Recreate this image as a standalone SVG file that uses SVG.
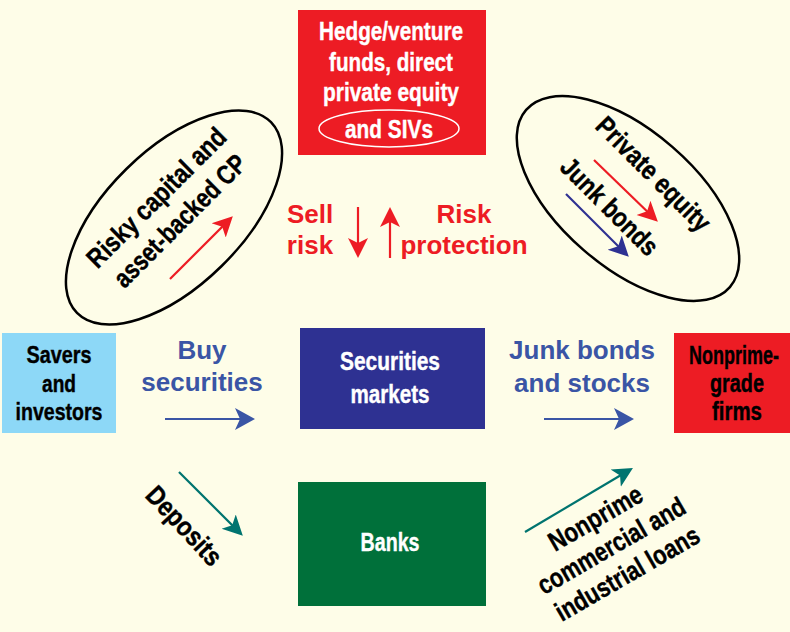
<svg xmlns="http://www.w3.org/2000/svg" width="790" height="632" viewBox="0 0 790 632">
<defs>
<style>
.cond{font-family:"Liberation Sans",Arial,sans-serif;font-weight:bold;text-anchor:middle;stroke-width:0.4}
.reg{font-family:"Liberation Sans",Arial,sans-serif;font-weight:bold;text-anchor:middle;font-size:26px}
.wht{fill:#ffffff}
.cond.wht{stroke:#ffffff}
.blk{fill:#000000}
.cond.blk{stroke:#000000}
.red{fill:#ED1C24}
.blu{fill:#3A55A5}
.ell{fill:none;stroke:#000000;stroke-width:2.5}
.ln{fill:none;stroke-width:2.2}
</style>
<marker id="mRed" markerUnits="userSpaceOnUse" markerWidth="22" markerHeight="22" viewBox="0 -11 22 22" refX="16" refY="0" orient="auto"><path d="M0,-10 L20,0 L0,10 L5,0 z" fill="#ED1C24"/></marker>
<marker id="mBlue" markerUnits="userSpaceOnUse" markerWidth="22" markerHeight="24" viewBox="0 -12 22 24" refX="16" refY="0" orient="auto"><path d="M0,-11 L20,0 L0,11 L5,0 z" fill="#3A55A5"/></marker>
<marker id="mNavy" markerUnits="userSpaceOnUse" markerWidth="22" markerHeight="22" viewBox="0 -11 22 22" refX="16" refY="0" orient="auto"><path d="M0,-10 L20,0 L0,10 L5,0 z" fill="#2E3192"/></marker>
<marker id="mTeal" markerUnits="userSpaceOnUse" markerWidth="22" markerHeight="22" viewBox="0 -11 22 22" refX="16" refY="0" orient="auto"><path d="M0,-10 L20,0 L0,10 L5,0 z" fill="#00746F"/></marker>
</defs>
<rect x="0" y="0" width="790" height="632" fill="#FEFDE8"/>

<g id="hedge">
<rect x="298" y="10" width="188" height="145" fill="#ED1C24"/>
<ellipse cx="389" cy="128.5" rx="70" ry="18.5" fill="none" stroke="#ffffff" stroke-width="1.5"/>
<text class="cond wht" font-size="26" x="391" y="40" textLength="144" lengthAdjust="spacingAndGlyphs">Hedge/venture</text>
<text class="cond wht" font-size="26" x="391" y="71" textLength="124" lengthAdjust="spacingAndGlyphs">funds, direct</text>
<text class="cond wht" font-size="26" x="391" y="101" textLength="136" lengthAdjust="spacingAndGlyphs">private equity</text>
<text class="cond wht" font-size="26" x="389" y="138" textLength="88" lengthAdjust="spacingAndGlyphs">and SIVs</text>
</g>

<g id="risky">
<ellipse cx="174" cy="217.5" rx="136" ry="68" transform="rotate(-44.5 174 217.5)" class="ell"/>
<g transform="translate(163 204) rotate(-45)">
<text class="cond blk" font-size="27" x="0" y="0" textLength="185" lengthAdjust="spacingAndGlyphs">Risky capital and</text>
<text class="cond blk" font-size="27" x="0" y="33" textLength="175" lengthAdjust="spacingAndGlyphs">asset-backed CP</text>
</g>
</g>

<g id="privateeq">
<ellipse cx="628" cy="198.5" rx="135" ry="68" transform="rotate(41 628 198.5)" class="ell"/>
<g transform="translate(647 180.5) rotate(45)">
<text class="cond blk" font-size="27" x="0" y="0" textLength="150" lengthAdjust="spacingAndGlyphs">Private equity</text>
</g>
<g transform="translate(603 213) rotate(45)">
<text class="cond blk" font-size="27" x="0" y="0" textLength="126" lengthAdjust="spacingAndGlyphs">Junk bonds</text>
</g>
</g>

<g id="savers">
<rect x="2" y="333" width="114" height="100" fill="#8DD8F7"/>
<text class="cond blk" font-size="24" x="59" y="363" textLength="65" lengthAdjust="spacingAndGlyphs">Savers</text>
<text class="cond blk" font-size="24" x="59" y="392" textLength="34" lengthAdjust="spacingAndGlyphs">and</text>
<text class="cond blk" font-size="24" x="59" y="420" textLength="87" lengthAdjust="spacingAndGlyphs">investors</text>
</g>

<g id="securities">
<rect x="300" y="328" width="185" height="101" fill="#2E3192"/>
<text class="cond wht" font-size="25" x="390" y="370" textLength="100" lengthAdjust="spacingAndGlyphs">Securities</text>
<text class="cond wht" font-size="25" x="390" y="403" textLength="79" lengthAdjust="spacingAndGlyphs">markets</text>
</g>

<g id="nonprimefirms">
<rect x="674" y="333" width="116" height="100" fill="#ED1C24"/>
<g transform="translate(734 364) scale(0.72 1)">
<text class="cond blk" font-size="25" x="0" y="0">Nonprime-</text>
</g>
<text class="cond blk" font-size="25" x="737" y="392" textLength="54" lengthAdjust="spacingAndGlyphs">grade</text>
<text class="cond blk" font-size="25" x="737" y="420" textLength="50" lengthAdjust="spacingAndGlyphs">firms</text>
</g>

<g id="banks">
<rect x="298" y="482" width="188" height="124" fill="#00703A"/>
<text class="cond wht" font-size="26" x="390" y="551" textLength="59" lengthAdjust="spacingAndGlyphs">Banks</text>
</g>

<g id="labels">
<text class="reg red" x="310" y="223">Sell</text>
<text class="reg red" x="310" y="254">risk</text>
<text class="reg red" x="464" y="223">Risk</text>
<text class="reg red" x="464" y="254">protection</text>
<text class="reg blu" x="202" y="359">Buy</text>
<text class="reg blu" x="202" y="391">securities</text>
<text class="reg blu" x="582" y="359">Junk bonds</text>
<text class="reg blu" x="582" y="392">and stocks</text>
<g transform="translate(177.5 532) rotate(47)">
<text class="cond blk" font-size="27" x="0" y="0" textLength="98" lengthAdjust="spacingAndGlyphs">Deposits</text>
</g>
<g transform="translate(600 526) rotate(-30)">
<text class="cond blk" font-size="27" x="0" y="0" textLength="104" lengthAdjust="spacingAndGlyphs">Nonprime</text>
<text class="cond blk" font-size="27" x="0" y="32" textLength="166" lengthAdjust="spacingAndGlyphs">commercial and</text>
<text class="cond blk" font-size="27" x="0" y="64" textLength="162" lengthAdjust="spacingAndGlyphs">industrial loans</text>
</g>
</g>

<g id="connectors">
<line x1="358" y1="207" x2="358" y2="254" class="ln" stroke="#ED1C24" marker-end="url(#mRed)"/>
<line x1="390" y1="258" x2="390" y2="211" class="ln" stroke="#ED1C24" marker-end="url(#mRed)"/>
<line x1="165" y1="419" x2="251" y2="419" class="ln" stroke="#3A55A5" stroke-width="2.5" marker-end="url(#mBlue)"/>
<line x1="544" y1="419" x2="630" y2="419" class="ln" stroke="#3A55A5" stroke-width="2.5" marker-end="url(#mBlue)"/>
<line x1="170" y1="279" x2="230" y2="219" class="ln" stroke="#ED1C24" marker-end="url(#mRed)"/>
<line x1="594" y1="160" x2="655" y2="219" class="ln" stroke="#ED1C24" marker-end="url(#mRed)"/>
<line x1="566" y1="194" x2="626" y2="254" class="ln" stroke="#2E3192" marker-end="url(#mNavy)"/>
<line x1="179" y1="472" x2="240" y2="533" class="ln" stroke="#00746F" marker-end="url(#mTeal)"/>
<line x1="525" y1="532" x2="629.5" y2="470" class="ln" stroke="#00746F" marker-end="url(#mTeal)"/>
</g>
</svg>
